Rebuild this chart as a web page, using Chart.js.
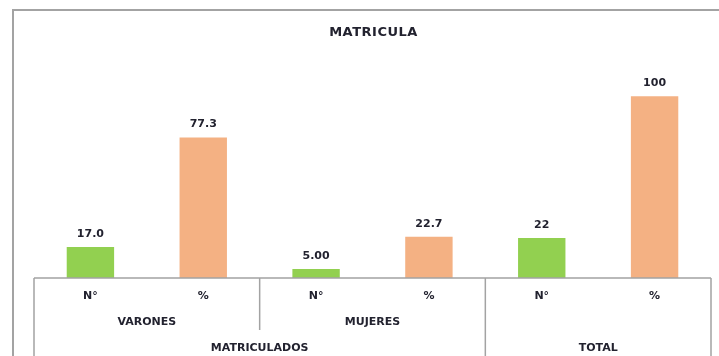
<!DOCTYPE html>
<html>
<head>
<meta charset="utf-8">
<script src="https://cdn.jsdelivr.net/npm/chart.js@4/dist/chart.umd.min.js"></script>
<style>
  body { margin: 0; background: #fff; }
  #wrap { width: 719px; height: 356px; }
</style>
</head>
<body>
<div id="wrap"><canvas id="chart"></canvas></div>
<script>
const categories = ["N°", "%", "N°", "%", "N°", "%"];
const groups = ["VARONES", "VARONES", "MUJERES", "MUJERES", "", ""];
const topGroups = ["MATRICULADOS", "MATRICULADOS", "MATRICULADOS", "MATRICULADOS", "TOTAL", "TOTAL"];
const values = [17, 77.3, 5, 22.7, 22, 100];
const decimals = [1, 1, 2, 1, 0, 0];
const colors = ["#92d050", "#f4b183", "#92d050", "#f4b183", "#92d050", "#f4b183"];

const FONT = "bold 11px 'DejaVu Sans'";
const TEXT = "#22222f";
const LINE = "#a3a3a3";

// spans of equal neighbouring labels -> [start, end, text]
function spans(list) {
  const out = [];
  let start = 0;
  for (let i = 1; i <= list.length; i++) {
    if (i === list.length || list[i] !== list[start]) {
      out.push([start, i - 1, list[start]]);
      start = i;
    }
  }
  return out;
}

const tablePlugin = {
  id: "tablePlugin",
  beforeDraw(chart) {
    const ctx = chart.ctx;
    ctx.save();
    ctx.strokeStyle = LINE;
    ctx.lineWidth = 2;
    ctx.strokeRect(13, 10, 740, 400);
    ctx.restore();
  },
  afterDraw(chart) {
    const ctx = chart.ctx;
    const x = chart.scales.x;
    const area = chart.chartArea;
    const step = x.getPixelForValue(1) - x.getPixelForValue(0);
    const edge = (i) => x.getPixelForValue(i) - step / 2;
    const bottom = chart.height;
    const rows = [area.bottom + 18, area.bottom + 44, area.bottom + 70];

    ctx.save();
    // title
    ctx.fillStyle = TEXT;
    ctx.font = "bold 13px 'DejaVu Sans'";
    ctx.letterSpacing = "0.5px";
    ctx.textAlign = "center";
    ctx.textBaseline = "middle";
    ctx.fillText("MATRICULA", (area.left + area.right) / 2 + 1, 33);
    ctx.letterSpacing = "0px";

    // value labels
    ctx.font = FONT;
    const meta = chart.getDatasetMeta(0);
    meta.data.forEach((bar, i) => {
      ctx.fillText(values[i].toFixed(decimals[i]), bar.x, bar.y - 13);
    });

    // category table lines
    ctx.strokeStyle = LINE;
    ctx.lineWidth = 1.5;
    ctx.beginPath();
    ctx.moveTo(area.left, area.bottom);
    ctx.lineTo(area.right, area.bottom);
    ctx.moveTo(area.left, area.bottom);
    ctx.lineTo(area.left, bottom);
    ctx.moveTo(area.right, area.bottom);
    ctx.lineTo(area.right, bottom);
    spans(groups).forEach(([s, e, t], k) => {
      if (k > 0) {
        ctx.moveTo(edge(s), area.bottom);
        ctx.lineTo(edge(s), t ? area.bottom + 52 : bottom);
      }
    });
    spans(topGroups).forEach(([s], k) => {
      if (k > 0) {
        ctx.moveTo(edge(s), area.bottom);
        ctx.lineTo(edge(s), bottom);
      }
    });
    ctx.stroke();

    // category labels, three levels
    categories.forEach((c, i) => ctx.fillText(c, x.getPixelForValue(i), rows[0]));
    spans(groups).forEach(([s, e, t]) => {
      if (t) ctx.fillText(t, (x.getPixelForValue(s) + x.getPixelForValue(e)) / 2, rows[1]);
    });
    spans(topGroups).forEach(([s, e, t]) => {
      ctx.fillText(t, (x.getPixelForValue(s) + x.getPixelForValue(e)) / 2, rows[2]);
    });
    ctx.restore();
  }
};

new Chart(document.getElementById("chart"), {
  type: "bar",
  data: {
    labels: categories,
    datasets: [{
      data: values,
      backgroundColor: colors,
      borderWidth: 0,
      categoryPercentage: 1,
      barPercentage: 0.42
    }]
  },
  options: {
    responsive: true,
    maintainAspectRatio: false,
    animation: false,
    layout: { padding: { left: 34, right: 8, top: 60, bottom: 78 } },
    plugins: {
      legend: { display: false },
      tooltip: { enabled: false }
    },
    scales: {
      x: { display: false },
      y: { display: false, min: 0, max: 120 }
    }
  },
  plugins: [tablePlugin]
});
</script>
</body>
</html>
